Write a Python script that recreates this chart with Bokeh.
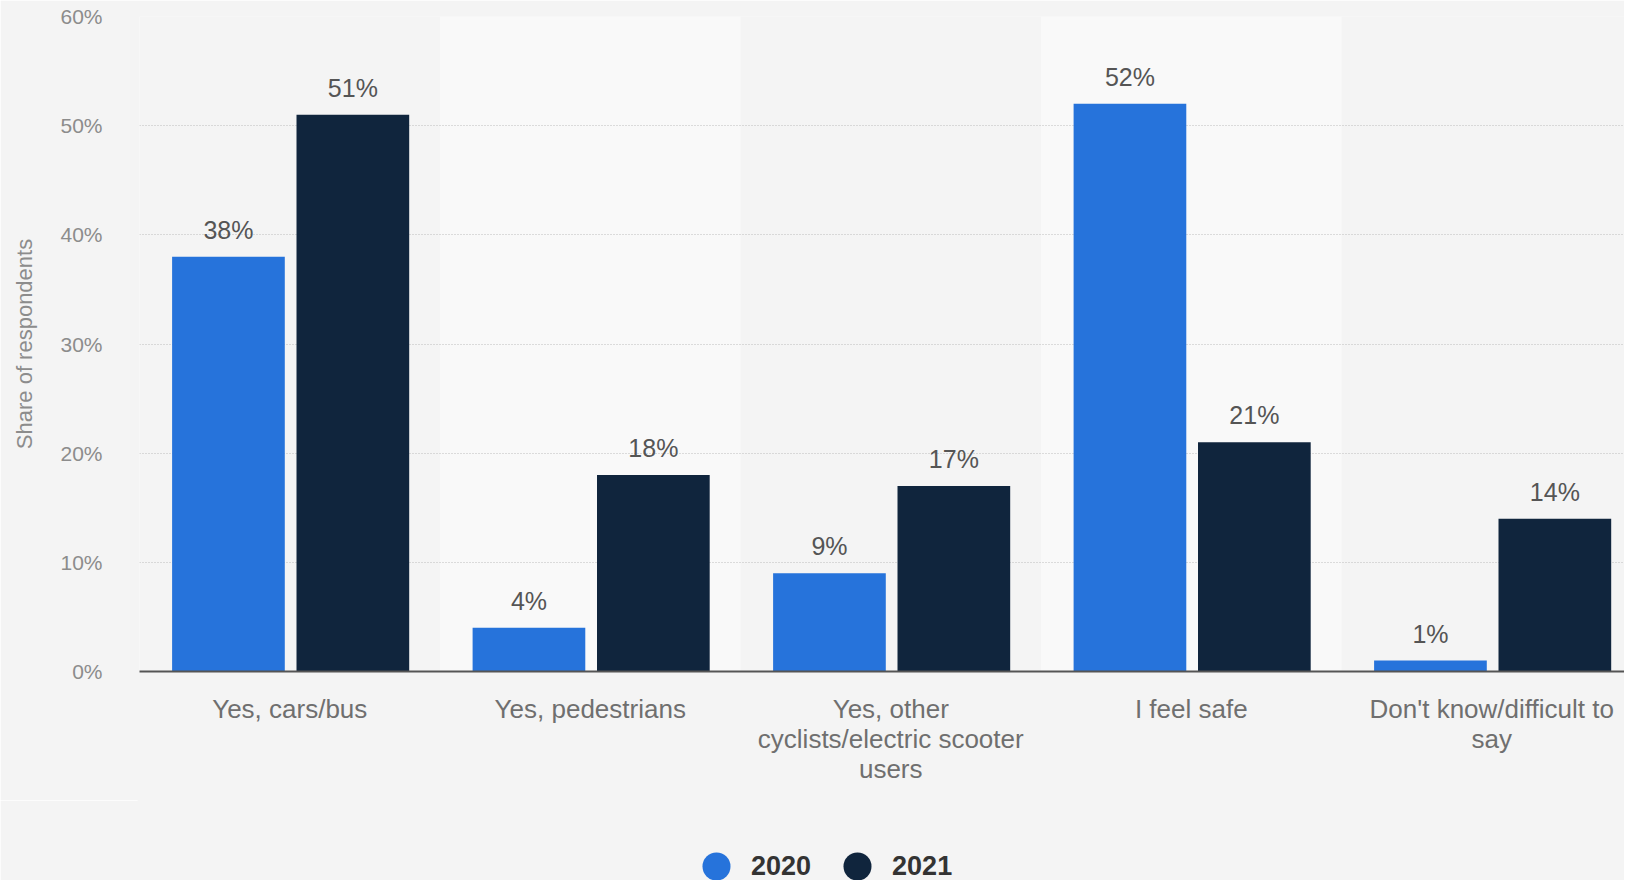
from bokeh.plotting import figure
from bokeh.layouts import column
from bokeh.models import Range1d, FixedTicker, PrintfTickFormatter, Legend, LegendItem
from bokeh.embed import file_html
from bokeh.resources import INLINE
from bokeh.core.properties import value

# ---- data ----
categories = ["Yes, cars/bus", "Yes, pedestrians",
              "Yes, other cyclists/electric scooter users",
              "I feel safe", "Don't know/difficult to say"]
category_labels = ["Yes, cars/bus", "Yes, pedestrians",
                   "Yes, other\ncyclists/electric scooter\nusers",
                   "I feel safe", "Don't know/difficult to\nsay"]
years = ["2020", "2021"]
values_2020 = [38, 4, 9, 52, 1]
values_2021 = [51, 18, 17, 21, 14]
y_ticks = [0, 10, 20, 30, 40, 50, 60]

# ---- style ----
FONT = "Liberation Sans"
BG = "#f4f4f4"
BAND = "#f9f9f9"
C2020 = "#2673db"
C2021 = "#10253d"

W = 1624
H_MAIN, H_LEG = 800, 80
LEFT, TOP = 139, 16
FRAME_BOTTOM = 671
band_px = 300.5
x_end = (W - LEFT) / band_px

p = figure(width=W, height=H_MAIN, output_backend="svg", toolbar_location=None,
           x_range=Range1d(0, x_end), y_range=Range1d(0, 60),
           min_border_left=LEFT, min_border_right=0, min_border_top=TOP,
           min_border_bottom=H_MAIN - FRAME_BOTTOM)
p.background_fill_color = BG
p.border_fill_color = BG
p.outline_line_color = None

n = len(categories)
idx = list(range(n))

# alternating light bands behind every second category
band_x = [i + 0.5 for i in idx if i % 2 == 1]
bands = p.vbar(x=band_x, width=1, top=60, bottom=0, fill_color=BAND, line_color=None)
bands.level = "image"

x_2020 = [i + 0.296 for i in idx]
x_2021 = [i + 0.710 for i in idx]
bw = 0.375

p.vbar(x=x_2020, width=bw, top=values_2020, bottom=0, fill_color=C2020, line_color=None)
p.vbar(x=x_2021, width=bw, top=values_2021, bottom=0, fill_color=C2021, line_color=None)

for xs, vs in ((x_2020, values_2020), (x_2021, values_2021)):
    p.text(x=xs, y=vs, text=[f"{v}%" for v in vs], y_offset=-27,
           text_align="center", text_baseline="middle",
           text_font=value(FONT), text_font_size="25px", text_color="#555555")

# ---- axes ----
p.xgrid.visible = False
p.ygrid.ticker = FixedTicker(ticks=y_ticks)
p.ygrid.grid_line_color = "#bdbdbd"
p.ygrid.grid_line_dash = "1 2"
p.ygrid.grid_line_width = 1

xa = p.xaxis[0]
xa.ticker = FixedTicker(ticks=[i + 0.5 for i in idx])
xa.major_label_overrides = {i + 0.5: category_labels[i] for i in idx}
xa.major_tick_line_color = None
xa.minor_tick_line_color = None
xa.axis_line_color = "#555555"
xa.axis_line_width = 2
xa.major_label_standoff = 16
xa.major_label_text_font = FONT
xa.major_label_text_font_size = "26px"
xa.major_label_text_line_height = 1.0
xa.major_label_text_color = "#6f6f6f"

ya = p.yaxis[0]
ya.ticker = FixedTicker(ticks=y_ticks)
ya.formatter = PrintfTickFormatter(format="%d%%")
ya.axis_line_color = None
ya.major_tick_line_color = None
ya.minor_tick_line_color = None
ya.major_label_standoff = 31
ya.major_label_text_font = FONT
ya.major_label_text_font_size = "21px"
ya.major_label_text_color = "#8c8c8c"
ya.axis_label = "Share of respondents"
ya.axis_label_text_font = FONT
ya.axis_label_text_font_size = "22px"
ya.axis_label_text_font_style = "normal"
ya.axis_label_text_color = "#8c8c8c"
ya.axis_label_standoff = 20

# ---- legend (own strip below the chart) ----
lg = figure(width=W, height=H_LEG, output_backend="svg", toolbar_location=None,
            x_range=Range1d(0, 1), y_range=Range1d(0, 1),
            min_border_left=0, min_border_right=0, min_border_top=0, min_border_bottom=0)
lg.axis.visible = False
lg.grid.visible = False
lg.background_fill_color = BG
lg.border_fill_color = BG
lg.outline_line_color = BG
lg.outline_line_width = 4
r20 = lg.scatter(x=[-10], y=[-10], marker="circle", size=28, fill_color=C2020, line_color=None)
r21 = lg.scatter(x=[-10], y=[-10], marker="circle", size=28, fill_color=C2021, line_color=None)
legend = Legend(items=[LegendItem(label=years[0], renderers=[r20]),
                       LegendItem(label=years[1], renderers=[r21])],
                orientation="horizontal", location=(542, -21),
                glyph_width=70, glyph_height=70, label_standoff=-8, spacing=11,
                padding=0, margin=0, border_line_color=None,
                background_fill_alpha=0,
                label_text_font=FONT, label_text_font_size="27px",
                label_text_font_style="bold", label_text_color="#333333")
lg.add_layout(legend)

layout = column(p, lg)
open("out.html", "w").write(file_html(layout, INLINE))
